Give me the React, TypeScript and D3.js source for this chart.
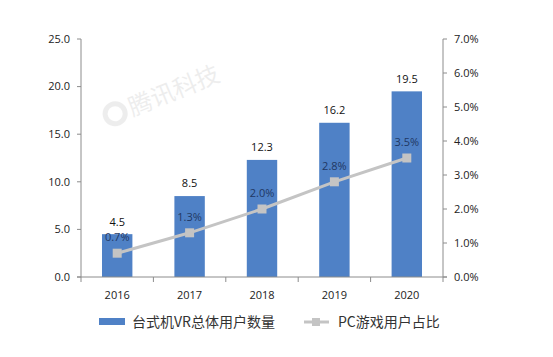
import React from "react";
import * as d3 from "d3";

const years = ["2016", "2017", "2018", "2019", "2020"];
const users = [4.5, 8.5, 12.3, 16.2, 19.5];
const share = [0.7, 1.3, 2.0, 2.8, 3.5];
const leftTicks = [0, 5, 10, 15, 20, 25];
const rightTicks = [0, 1, 2, 3, 4, 5, 6, 7];
const barName = "台式机VR总体用户数量";
const lineName = "PC游戏用户占比";

const W = 553, H = 357;
const left = 81, right = 443, top = 39, bottom = 277;
const font = "'Open Sans', 'Noto Sans CJK SC', sans-serif";
const barColor = "#4F81C6";
const lineColor = "#C4C4C4";

export default function App() {
  const x = d3.scaleBand().domain(years).range([left, right]).paddingInner(0).paddingOuter(0);
  const yL = d3.scaleLinear().domain([0, 25]).range([bottom, top]);
  const yR = d3.scaleLinear().domain([0, 7]).range([bottom, top]);
  const bw = x.bandwidth() * 0.42;
  const cx = (d: string) => (x(d) as number) + x.bandwidth() / 2;
  const line = d3.line<number>().x((_, i) => cx(years[i])).y((d) => yR(d));
  const bounds = years.map((y) => x(y) as number).concat([right]);

  return (
    <svg width={W} height={H} style={{ position: "absolute", left: 0, top: 0, background: "#fff" }}>
      <rect width={W} height={H} fill="#fff" />
      {/* watermark */}
      <g opacity={0.09} fontFamily="'Noto Sans CJK SC', sans-serif" fill="#444" transform="rotate(-22 120 115)">
        <circle cx={116} cy={112} r={10} fill="none" stroke="#444" strokeWidth={5} />
        <text x={131} y={121} fontSize={24}>腾讯科技</text>
      </g>
      {/* bars */}
      {users.map((v, i) => (
        <rect key={years[i]} x={cx(years[i]) - bw / 2} y={yL(v)} width={bw} height={bottom - yL(v)} fill={barColor} />
      ))}
      {/* axes */}
      <g stroke="#8c8c8c" strokeWidth={1} fill="none">
        <line x1={left} x2={left} y1={top} y2={bottom} />
        <line x1={right} x2={right} y1={top} y2={bottom} />
        <line x1={left - 4} x2={right + 4} y1={bottom} y2={bottom} />
        {leftTicks.map((t) => (
          <line key={"l" + t} x1={left - 4} x2={left} y1={yL(t)} y2={yL(t)} />
        ))}
        {rightTicks.map((t) => (
          <line key={"r" + t} x1={right} x2={right + 4} y1={yR(t)} y2={yR(t)} />
        ))}
        {bounds.map((b, i) => (
          <line key={"b" + i} x1={b} x2={b} y1={bottom} y2={bottom + 5} />
        ))}
      </g>
      <g fontFamily={font} fontSize={11} fill="#222">
        {leftTicks.map((t) => (
          <text key={"lt" + t} x={70} y={yL(t)} dy="0.35em" textAnchor="end">{t.toFixed(1)}</text>
        ))}
        {rightTicks.map((t) => (
          <text key={"rt" + t} x={454} y={yR(t)} dy="0.35em">{t.toFixed(1) + "%"}</text>
        ))}
        {years.map((y) => (
          <text key={"x" + y} x={cx(y)} y={295} dy="0.35em" textAnchor="middle" fontWeight="500">{y}</text>
        ))}
      </g>
      {/* line */}
      <path d={line(share) as string} fill="none" stroke={lineColor} strokeWidth={3} />
      {share.map((v, i) => (
        <rect key={"m" + i} x={cx(years[i]) - 4.5} y={yR(v) - 4.5} width={9} height={9} fill={lineColor} />
      ))}
      {/* labels */}
      <g fontFamily={font} fontSize={11} textAnchor="middle">
        {users.map((v, i) => (
          <text key={"ul" + i} x={cx(years[i])} y={yL(v) - 12.5} dy="0.35em" fill="#111">{v.toFixed(1)}</text>
        ))}
        {share.map((v, i) => (
          <text key={"sl" + i} x={cx(years[i])} y={yR(v) - 16} dy="0.35em" fill="#1F3864">{v.toFixed(1) + "%"}</text>
        ))}
      </g>
      {/* legend */}
      <rect x={99} y={318} width={26} height={7} fill={barColor} />
      <text x={132} y={322} dy="0.35em" fontFamily="'Noto Sans CJK SC', sans-serif" fontSize={14} fill="#333">{barName}</text>
      <line x1={304} x2={329} y1={322} y2={322} stroke={lineColor} strokeWidth={3} />
      <rect x={312} y={318} width={8} height={8} fill={lineColor} />
      <text x={338} y={322} dy="0.35em" fontFamily="'Noto Sans CJK SC', sans-serif" fontSize={14} fill="#333">{lineName}</text>
    </svg>
  );
}
